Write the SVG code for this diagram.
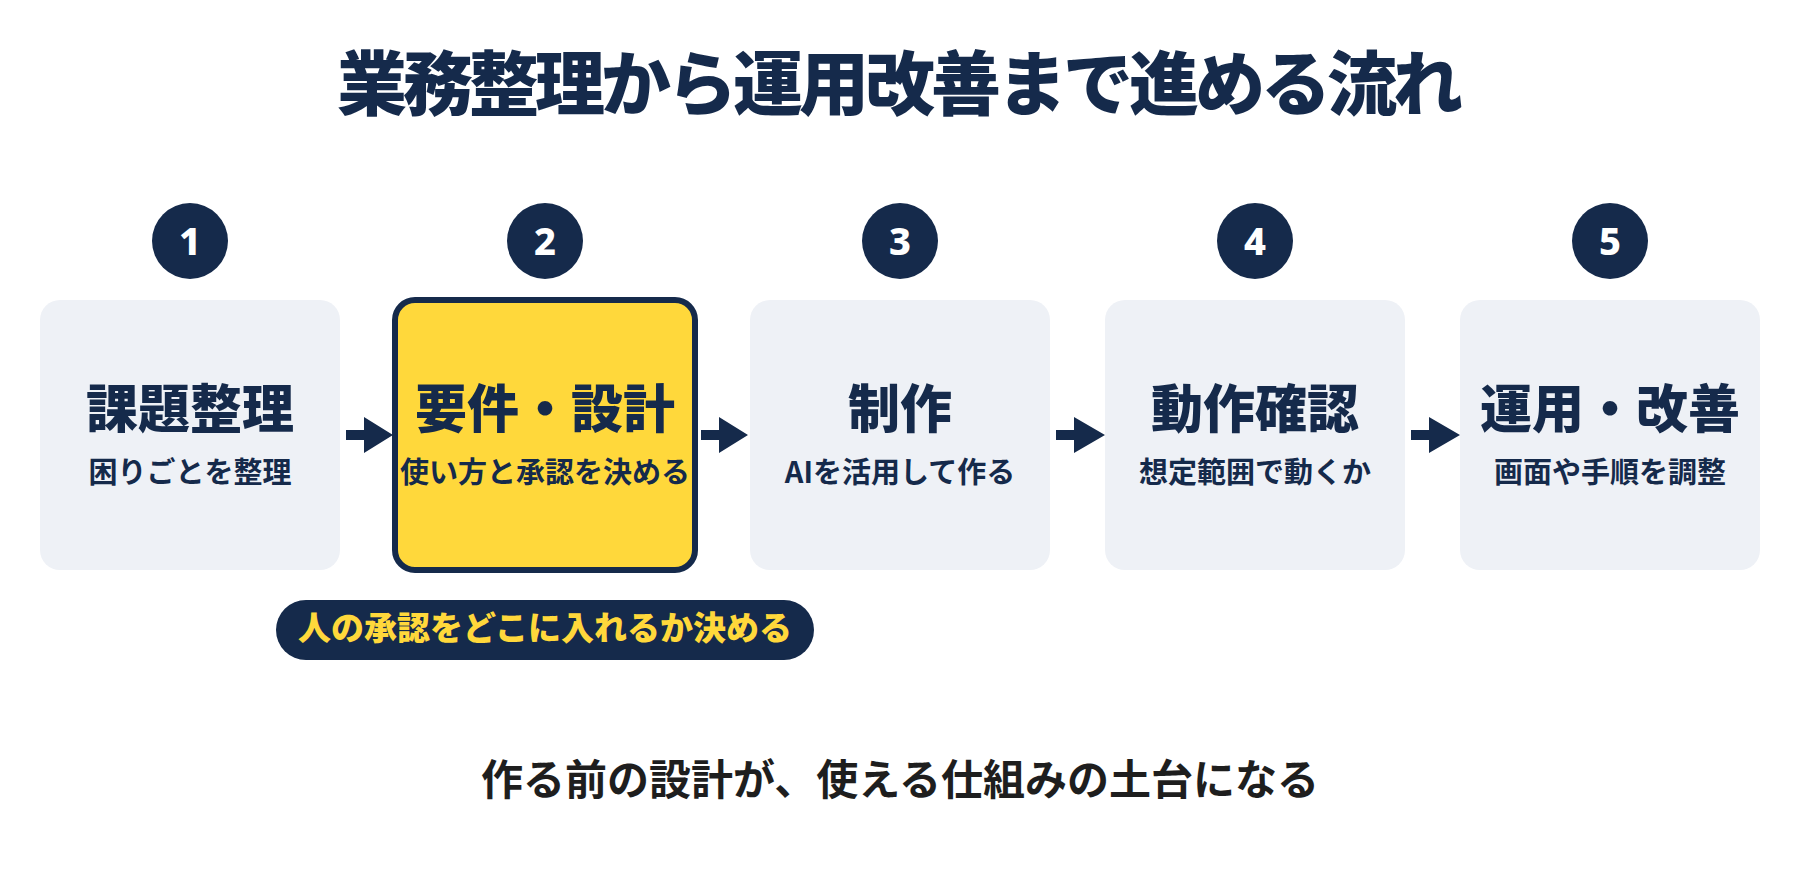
<svg xmlns="http://www.w3.org/2000/svg" width="1800" height="870" viewBox="0 0 1800 870">
<defs>
<style>
.jp{font-family:"Noto Sans CJK JP","Noto Sans",sans-serif;}
.title{font-size:70px;font-weight:900;fill:#152a4b;letter-spacing:-4px;}
.box{fill:#eef1f6;}
.box-hl{fill:#ffd83b;stroke:#152a4b;stroke-width:6;}
.h{font-size:52px;font-weight:800;fill:#152a4b;}
.s{font-size:29px;font-weight:700;fill:#152a4b;}
.num-c{fill:#152a4b;}
.num{font-size:38px;font-weight:800;fill:#ffffff;font-family:"Noto Sans","Noto Sans CJK JP",sans-serif;}
.arrow{fill:#152a4b;}
.pill{fill:#152a4b;}
.pill-t{font-size:33px;font-weight:800;fill:#ffd83b;}
.foot{font-size:42px;font-weight:700;fill:#1e1e1e;}
</style>
</defs>
<rect width="1800" height="870" fill="#ffffff"/>
<text class="jp title" x="898" y="110" text-anchor="middle">業務整理から運用改善まで進める流れ</text>

<g id="node1">
<circle class="num-c" cx="190" cy="241" r="38"/>
<text class="num" x="190" y="255" text-anchor="middle">1</text>
<rect class="box" x="40" y="300" width="300" height="270" rx="20"/>
<text class="jp h" x="190" y="428" text-anchor="middle">課題整理</text>
<text class="jp s" x="190" y="483" text-anchor="middle">困りごとを整理</text>
</g>

<g id="node2">
<circle class="num-c" cx="545" cy="241" r="38"/>
<text class="num" x="545" y="255" text-anchor="middle">2</text>
<rect class="box-hl" x="395" y="300" width="300" height="270" rx="20"/>
<text class="jp h" x="545" y="428" text-anchor="middle">要件・設計</text>
<text class="jp s" x="545" y="483" text-anchor="middle">使い方と承認を決める</text>
</g>

<g id="node3">
<circle class="num-c" cx="900" cy="241" r="38"/>
<text class="num" x="900" y="255" text-anchor="middle">3</text>
<rect class="box" x="750" y="300" width="300" height="270" rx="20"/>
<text class="jp h" x="900" y="428" text-anchor="middle">制作</text>
<text class="jp s" x="900" y="483" text-anchor="middle">AIを活用して作る</text>
</g>

<g id="node4">
<circle class="num-c" cx="1255" cy="241" r="38"/>
<text class="num" x="1255" y="255" text-anchor="middle">4</text>
<rect class="box" x="1105" y="300" width="300" height="270" rx="20"/>
<text class="jp h" x="1255" y="428" text-anchor="middle">動作確認</text>
<text class="jp s" x="1255" y="483" text-anchor="middle">想定範囲で動くか</text>
</g>

<g id="node5">
<circle class="num-c" cx="1610" cy="241" r="38"/>
<text class="num" x="1610" y="255" text-anchor="middle">5</text>
<rect class="box" x="1460" y="300" width="300" height="270" rx="20"/>
<text class="jp h" x="1610" y="428" text-anchor="middle">運用・改善</text>
<text class="jp s" x="1610" y="483" text-anchor="middle">画面や手順を調整</text>
</g>

<g id="connectors">
<polygon class="arrow" points="346,430 364,430 364,417 393,435 364,453 364,440 346,440"/>
<polygon class="arrow" points="701,430 719,430 719,417 748,435 719,453 719,440 701,440"/>
<polygon class="arrow" points="1056,430 1074,430 1074,417 1105,435 1074,453 1074,440 1056,440"/>
<polygon class="arrow" points="1411,430 1429,430 1429,417 1460,435 1429,453 1429,440 1411,440"/>
</g>

<g id="note">
<rect class="pill" x="276" y="600" width="538" height="60" rx="30"/>
<text class="jp pill-t" x="545" y="640" text-anchor="middle">人の承認をどこに入れるか決める</text>
</g>

<text class="jp foot" x="900" y="795" text-anchor="middle">作る前の設計が、使える仕組みの土台になる</text>
</svg>
